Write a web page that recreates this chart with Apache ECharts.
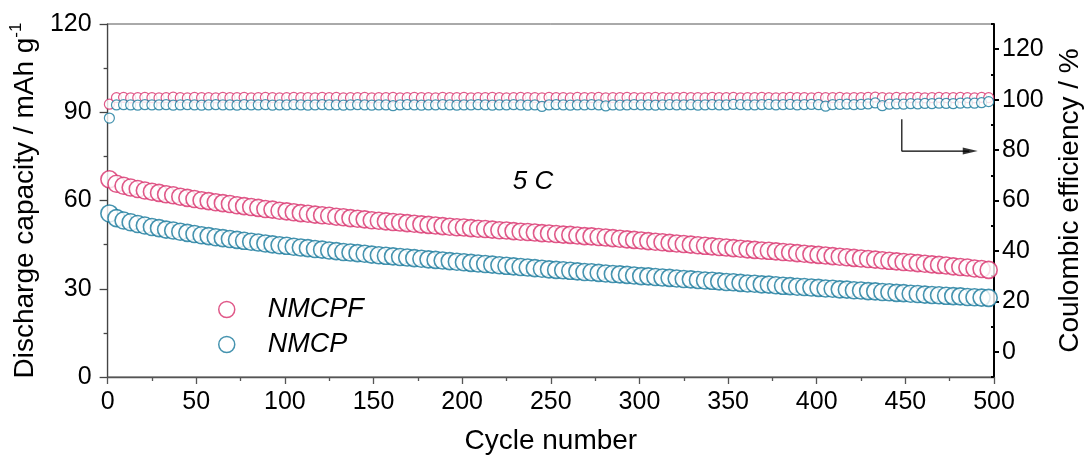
<!DOCTYPE html>
<html>
<head>
<meta charset="utf-8">
<script src="https://cdn.jsdelivr.net/npm/echarts@6/dist/echarts.min.js"></script>
<style>
  html, body { margin: 0; padding: 0; background: #fff; }
  #chart { width: 1092px; height: 468px; }
</style>
</head>
<body>
<div id="chart"></div>
<script>
// Cycle numbers at which a point was recorded
const cycles = [
  1, 5, 9, 13, 17, 21, 25, 29, 33, 37, 41, 45, 49, 53, 57, 61, 65, 69, 73, 77,
  81, 85, 89, 93, 97, 101, 105, 109, 113, 117, 121, 125, 129, 133, 137, 141, 145, 149, 153, 157,
  161, 165, 169, 173, 177, 181, 185, 189, 193, 197, 201, 205, 209, 213, 217, 221, 225, 229, 233, 237,
  241, 245, 249, 253, 257, 261, 265, 269, 273, 277, 281, 285, 289, 293, 297, 301, 305, 309, 313, 317,
  321, 325, 329, 333, 337, 341, 345, 349, 353, 357, 361, 365, 369, 373, 377, 381, 385, 389, 393, 397,
  401, 405, 409, 413, 417, 421, 425, 429, 433, 437, 441, 445, 449, 453, 457, 461, 465, 469, 473, 477,
  481, 485, 489, 493, 497
];

// Discharge capacity (mAh g-1)
const capNMCPF = [
  67.2, 65.7, 65.0, 64.4, 63.9, 63.4, 63.0, 62.6, 62.1, 61.8, 61.3, 60.9, 60.5, 60.1, 59.8, 59.4, 59.1, 58.8, 58.4, 58.1,
  57.8, 57.5, 57.1, 56.9, 56.5, 56.3, 56.0, 55.7, 55.5, 55.2, 55.0, 54.8, 54.5, 54.3, 54.0, 53.8, 53.6, 53.3, 53.1, 52.9,
  52.7, 52.5, 52.3, 52.1, 51.9, 51.7, 51.5, 51.3, 51.1, 50.9, 50.8, 50.6, 50.4, 50.3, 50.1, 49.9, 49.8, 49.6, 49.4, 49.3,
  49.1, 48.9, 48.8, 48.6, 48.4, 48.3, 48.1, 47.9, 47.8, 47.6, 47.4, 47.2, 47.0, 46.8, 46.6, 46.4, 46.2, 46.0, 45.8, 45.6,
  45.4, 45.2, 45.0, 44.8, 44.6, 44.4, 44.2, 44.0, 43.8, 43.6, 43.4, 43.2, 43.0, 42.9, 42.7, 42.5, 42.3, 42.1, 41.9, 41.7,
  41.5, 41.3, 41.1, 40.9, 40.7, 40.5, 40.3, 40.1, 39.9, 39.7, 39.5, 39.3, 39.1, 38.9, 38.7, 38.5, 38.3, 38.1, 37.9, 37.6,
  37.4, 37.2, 36.9, 36.7, 36.4
];
const capNMCP = [
  55.6, 54.0, 53.2, 52.6, 52.0, 51.5, 51.0, 50.6, 50.1, 49.8, 49.4, 49.0, 48.6, 48.2, 47.9, 47.5, 47.2, 46.9, 46.6, 46.3,
  46.0, 45.7, 45.4, 45.1, 44.8, 44.6, 44.3, 44.0, 43.8, 43.5, 43.3, 43.0, 42.8, 42.5, 42.3, 42.1, 41.9, 41.6, 41.4, 41.2,
  41.0, 40.8, 40.6, 40.4, 40.2, 40.0, 39.8, 39.6, 39.4, 39.2, 39.0, 38.8, 38.6, 38.4, 38.2, 38.0, 37.8, 37.6, 37.4, 37.2,
  37.0, 36.8, 36.6, 36.4, 36.3, 36.1, 35.9, 35.7, 35.6, 35.4, 35.2, 35.0, 34.9, 34.7, 34.5, 34.3, 34.2, 34.0, 33.8, 33.7,
  33.5, 33.3, 33.2, 33.0, 32.8, 32.7, 32.5, 32.3, 32.2, 32.0, 31.8, 31.7, 31.5, 31.4, 31.2, 31.0, 30.9, 30.7, 30.6, 30.4,
  30.3, 30.1, 30.0, 29.8, 29.7, 29.5, 29.4, 29.2, 29.1, 28.9, 28.8, 28.6, 28.5, 28.3, 28.2, 28.0, 27.9, 27.8, 27.6, 27.5,
  27.4, 27.2, 27.1, 27.0, 26.9
];

// Coulombic efficiency (%)
const ceNMCPF = [
  98.2, 100.8, 100.9, 100.7, 100.8, 100.9, 100.8, 100.7, 100.8, 101.0, 100.8, 100.7, 100.9, 100.8, 100.8, 100.7, 100.9, 100.8, 100.8, 100.9,
  100.7, 100.8, 100.9, 100.8, 100.7, 100.8, 100.9, 100.8, 100.8, 100.7, 100.9, 100.8, 100.9, 100.7, 100.8, 100.8, 100.9, 100.7, 100.8, 100.8,
  100.9, 100.7, 100.8, 100.9, 100.8, 100.8, 100.7, 100.9, 100.8, 100.8, 100.9, 100.7, 100.8, 100.8, 100.9, 100.8, 100.7, 100.8, 100.9, 100.8,
  100.8, 100.7, 100.9, 100.8, 100.8, 100.7, 100.9, 100.8, 100.8, 100.9, 100.7, 100.8, 100.8, 100.9, 100.8, 100.7, 100.8, 100.9, 100.8, 100.7,
  100.8, 100.9, 100.8, 100.8, 100.7, 100.9, 100.8, 100.8, 100.9, 100.7, 100.8, 100.8, 100.9, 100.8, 100.7, 100.8, 100.9, 100.8, 100.8, 100.7,
  100.9, 100.8, 100.8, 100.9, 100.7, 100.8, 100.8, 100.9, 101.0, 100.8, 100.7, 100.9, 100.8, 100.8, 100.9, 100.7, 100.8, 100.9, 100.8, 100.8,
  100.9, 100.8, 100.7, 100.9, 100.8
];
const ceNMCP = [
  92.7, 97.9, 98.0, 97.9, 97.8, 98.0, 97.9, 97.9, 98.0, 97.8, 97.9, 98.0, 97.9, 97.8, 97.9, 98.0, 97.9, 97.9, 97.8, 98.0,
  97.9, 97.9, 98.0, 97.8, 97.9, 97.9, 98.0, 97.9, 97.8, 97.9, 98.0, 97.9, 97.9, 97.8, 97.9, 98.0, 97.9, 97.8, 97.9, 97.9,
  97.6, 97.9, 98.0, 97.9, 97.8, 97.9, 97.9, 98.0, 97.9, 97.8, 97.9, 97.9, 98.0, 97.9, 97.8, 97.9, 97.9, 98.0, 97.9, 97.8,
  97.9, 97.3, 97.9, 98.0, 97.9, 97.8, 97.9, 97.9, 98.0, 97.9, 97.5, 97.9, 97.8, 97.9, 98.0, 97.9, 97.9, 97.8, 97.9, 98.0,
  97.9, 97.9, 98.0, 97.8, 97.9, 98.0, 97.9, 97.9, 98.1, 98.0, 97.9, 97.9, 98.0, 98.1, 97.9, 98.0, 98.1, 97.9, 98.0, 98.1,
  98.0, 97.4, 98.0, 98.1, 98.2, 98.0, 98.1, 98.3, 98.7, 97.6, 98.2, 98.3, 98.2, 98.4, 98.3, 98.5, 98.4, 98.6, 98.5, 98.4,
  98.6, 98.7, 98.6, 98.8, 99.2
];

// Bent arrow pointing from the efficiency rows to the right-hand axis
const arrowPath = [[448, 92.2], [448, 79.6], [486, 79.6]];
const arrowTip = [[486.6, 79.6]];

const series1 = 'NMCPF';
const series2 = 'NMCP';
const pink = '#d8306c';
const teal = '#16789b';
const font = "Arial, 'Liberation Sans', sans-serif";

const zip = (xs, ys) => xs.map((x, i) => [x, ys[i]]);

const chart = echarts.init(document.getElementById('chart'), null, { renderer: 'canvas' });

const hollow = (color, size, width) => ({
  type: 'scatter',
  symbol: 'circle',
  symbolSize: size,
  itemStyle: { color: '#fff', borderColor: color, borderWidth: width },
  emphasis: { disabled: true },
  clip: false
});

chart.setOption({
  animation: false,
  textStyle: { fontFamily: font },
  grid: {
    left: 107, right: 91, top: 24, bottom: 91,
    show: true, borderColor: '#555', borderWidth: 1, backgroundColor: 'transparent'
  },
  legend: {
    left: 213, top: 291, orient: 'vertical',
    itemWidth: 72, itemHeight: 16, itemGap: 8,
    symbolKeepAspect: true,
    textStyle: { fontSize: 27, fontStyle: 'italic', color: '#000', fontFamily: font },
    data: [
      { name: series1, icon: 'circle', itemStyle: { color: '#fff', borderColor: pink, borderWidth: 1.5 } },
      { name: series2, icon: 'circle', itemStyle: { color: '#fff', borderColor: teal, borderWidth: 1.5 } }
    ]
  },
  xAxis: {
    type: 'value', min: 0, max: 500, interval: 50,
    name: 'Cycle number', nameLocation: 'middle', nameGap: 50,
    nameTextStyle: { fontSize: 28, color: '#000' },
    axisLine: { lineStyle: { color: '#555', width: 1.3 } },
    axisTick: { show: true, inside: false, length: 7, lineStyle: { color: '#555', width: 1.3 } },
    minorTick: { show: true, splitNumber: 2, length: 4, lineStyle: { color: '#555', width: 1.3 } },
    axisLabel: { fontSize: 25, color: '#000', margin: 13 },
    splitLine: { show: false }
  },
  yAxis: [
    {
      type: 'value', min: 0, max: 120, interval: 30, position: 'left',
      name: '{a|Discharge capacity / mAh g}{s|-1}',
      nameLocation: 'middle', nameGap: 62, nameRotate: 90,
      nameTextStyle: {
        color: '#000',
        rich: {
          a: { fontSize: 28, color: '#000', fontFamily: font, lineHeight: 34 },
          s: { fontSize: 17, color: '#000', fontFamily: font, verticalAlign: 'top', lineHeight: 20 }
        }
      },
      axisLine: { show: true, lineStyle: { color: '#444', width: 1.3 } },
      axisTick: { show: true, inside: false, length: 8, lineStyle: { color: '#444', width: 1.3 } },
      minorTick: { show: true, splitNumber: 2, length: 4, lineStyle: { color: '#444', width: 1.3 } },
      axisLabel: { fontSize: 25, color: '#000', margin: 16 },
      splitLine: { show: false }
    },
    {
      type: 'value', min: -10, max: 130, position: 'right',
      name: 'Coulombic efficiency / %', nameLocation: 'middle', nameGap: 62, nameRotate: 90,
      nameTextStyle: { fontSize: 28, color: '#000' },
      axisLine: { show: true, lineStyle: { color: '#000', width: 2 } },
      axisTick: {
        show: true, inside: false, length: 5,
        customValues: [0, 20, 40, 60, 80, 100, 120],
        lineStyle: { color: '#000', width: 2 }
      },
      axisLabel: {
        fontSize: 25, color: '#000', margin: 8,
        customValues: [0, 20, 40, 60, 80, 100, 120]
      },
      splitLine: { show: false }
    },
    {
      // minor ticks of the efficiency axis
      type: 'value', min: -10, max: 130, position: 'right',
      axisLine: { show: false },
      axisTick: {
        show: true, inside: true, length: 3,
        customValues: [-10, 10, 30, 50, 70, 90, 110, 130],
        lineStyle: { color: '#000', width: 2 }
      },
      axisLabel: { show: false },
      splitLine: { show: false }
    }
  ],
  graphic: [
    {
      type: 'text', x: 533, y: 182, silent: true,
      style: {
        text: '5 C', fontSize: 26, fontStyle: 'italic', fontFamily: font,
        fill: '#000', textAlign: 'center', textVerticalAlign: 'middle'
      }
    }
  ],
  series: [
    Object.assign(hollow(pink, 10, 1.2), { name: series1, yAxisIndex: 1, data: zip(cycles, ceNMCPF), z: 2 }),
    Object.assign(hollow(teal, 10, 1.2), { name: series2, yAxisIndex: 1, data: zip(cycles, ceNMCP), z: 3 }),
    Object.assign(hollow(pink, 17, 1.6), { name: series1, yAxisIndex: 0, data: zip(cycles, capNMCPF), z: 2 }),
    Object.assign(hollow(teal, 17, 1.6), { name: series2, yAxisIndex: 0, data: zip(cycles, capNMCP), z: 2 }),
    {
      type: 'line', name: 'arrow', yAxisIndex: 1, data: arrowPath,
      symbol: 'none', silent: true,
      lineStyle: { color: '#000', width: 1.2 }, z: 4
    },
    {
      type: 'scatter', name: 'arrowhead', yAxisIndex: 1, data: arrowTip,
      symbol: 'triangle', symbolSize: [7, 15], symbolRotate: -90, silent: true,
      itemStyle: { color: '#000' }, z: 4
    }
  ]
});
</script>
</body>
</html>
